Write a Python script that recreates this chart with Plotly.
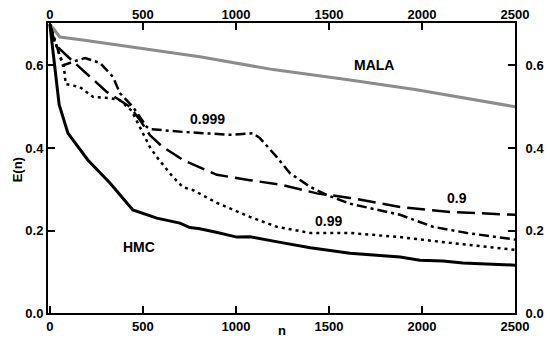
import plotly.graph_objects as go

# ---- data ----
hmc_x = [0, 50, 97, 204, 323, 446, 575, 699, 753, 806, 900, 1005, 1075, 1150, 1253, 1400, 1613, 1882, 1989, 2113, 2220, 2500]
hmc_y = [0.70, 0.505, 0.436, 0.371, 0.315, 0.250, 0.230, 0.218, 0.207, 0.204, 0.195, 0.184, 0.185, 0.178, 0.170, 0.158, 0.145, 0.136, 0.128, 0.126, 0.121, 0.116]

mala_x = [0, 54, 177, 446, 806, 1200, 1613, 1971, 2500]
mala_y = [0.70, 0.669, 0.662, 0.645, 0.621, 0.590, 0.565, 0.541, 0.500]

r09_x = [0, 30, 100, 150, 204, 306, 430, 484, 538, 600, 715, 898, 1075, 1253, 1435, 1613, 1882, 2150, 2500]
r09_y = [0.70, 0.65, 0.62, 0.60, 0.577, 0.536, 0.500, 0.468, 0.431, 0.405, 0.371, 0.335, 0.322, 0.310, 0.290, 0.279, 0.257, 0.245, 0.238]

r099_x = [0, 40, 75, 85, 161, 231, 323, 376, 440, 500, 538, 575, 661, 715, 769, 898, 1075, 1220, 1398, 1613, 1882, 2150, 2500]
r099_y = [0.70, 0.64, 0.60, 0.555, 0.548, 0.524, 0.521, 0.516, 0.490, 0.436, 0.402, 0.378, 0.330, 0.305, 0.298, 0.267, 0.233, 0.209, 0.194, 0.194, 0.184, 0.170, 0.153]

r0999_x = [0, 40, 70, 130, 190, 270, 340, 376, 414, 446, 521, 538, 715, 968, 1091, 1129, 1220, 1290, 1398, 1489, 1613, 1882, 2059, 2242, 2500]
r0999_y = [0.70, 0.64, 0.60, 0.61, 0.618, 0.606, 0.572, 0.533, 0.516, 0.500, 0.451, 0.446, 0.439, 0.432, 0.436, 0.424, 0.378, 0.339, 0.306, 0.286, 0.265, 0.238, 0.209, 0.194, 0.178]

x_ticks = [0, 500, 1000, 1500, 2000, 2500]
y_ticks = [0.0, 0.2, 0.4, 0.6]
y_ticklabels = ["0.0", "0.2", "0.4", "0.6"]

labels = [("MALA", 1742, 0.601), ("0.999", 849, 0.47), ("0.9", 2188, 0.279),
          ("0.99", 1495, 0.223), ("HMC", 479, 0.16)]

FONT = "Liberation Sans, Arial, sans-serif"

fig = go.Figure()
fig.add_trace(go.Scatter(x=mala_x, y=mala_y, mode="lines", line=dict(color="#8c8c8c", width=3)))
fig.add_trace(go.Scatter(x=r09_x, y=r09_y, mode="lines", line=dict(color="black", width=2.5, dash="18px,7px")))
fig.add_trace(go.Scatter(x=r0999_x, y=r0999_y, mode="lines", line=dict(color="black", width=2.5, dash="10px,4px,3px,4px")))
fig.add_trace(go.Scatter(x=r099_x, y=r099_y, mode="lines", line=dict(color="black", width=2.5, dash="3px,4px")))
fig.add_trace(go.Scatter(x=hmc_x, y=hmc_y, mode="lines", line=dict(color="black", width=3)))
# invisible trace to activate secondary axes
fig.add_trace(go.Scatter(x=[0], y=[0], xaxis="x2", yaxis="y2", mode="markers",
                         marker=dict(opacity=0), hoverinfo="skip"))

XR = [-10, 2500]
YR = [0, 0.703]
tickfont = dict(family=FONT, size=13, color="black", weight="bold")
common_x = dict(range=XR, tickvals=x_ticks, ticks="inside", ticklen=7, tickwidth=2,
                tickcolor="black", showline=True, linecolor="black", linewidth=2,
                showgrid=False, zeroline=False, tickfont=tickfont)
common_y = dict(range=YR, tickvals=y_ticks, ticktext=y_ticklabels, ticks="inside", ticklen=7,
                tickwidth=2, tickcolor="black", showline=True, linecolor="black", linewidth=2,
                showgrid=False, zeroline=False, tickfont=tickfont)

fig.update_layout(
    width=550, height=350,
    margin=dict(l=48, r=35, t=23, b=37, autoexpand=False),
    paper_bgcolor="white", plot_bgcolor="white",
    showlegend=False,
    xaxis=dict(**common_x, side="bottom"),
    yaxis=dict(**common_y, side="left"),
    xaxis2=dict(**common_x, side="top", overlaying="x", ticklabelstandoff=-3),
    yaxis2=dict(**common_y, side="right", overlaying="y", ticklabelstandoff=6),
)

annos = []
for t, x, y in labels:
    annos.append(dict(text=t, x=x, y=y, xref="x", yref="y", showarrow=False,
                      font=dict(family=FONT, size=14, color="black", weight="bold")))
annos.append(dict(text="n", x=1250, y=0, xref="x", yref="paper", yshift=-27, showarrow=False,
                  font=dict(family=FONT, size=13, color="black", weight="bold")))
annos.append(dict(text="E(n)", x=0, y=0.347, xref="paper", yref="y", xshift=-40, textangle=-90,
                  showarrow=False, font=dict(family=FONT, size=13, color="black", weight="bold")))
fig.update_layout(annotations=annos)

fig.write_html("out.html")
